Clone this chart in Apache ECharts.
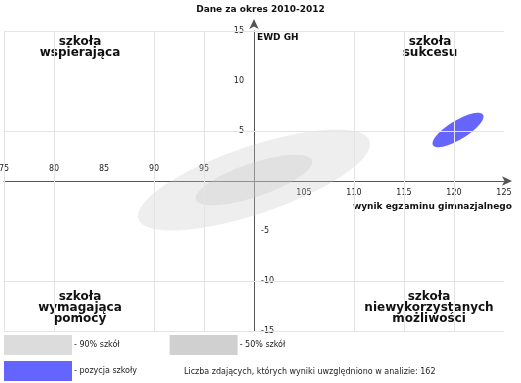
<!DOCTYPE html>
<html><head><meta charset="utf-8">
<script src="https://cdn.jsdelivr.net/npm/echarts@6/dist/echarts.min.js"></script>
<style>html,body{margin:0;padding:0;background:#fff}#c{width:521px;height:383px}</style>
</head><body><div id="c"></div>
<script>
// ---- data ----
const titleText = 'Dane za okres 2010-2012';
const xName = 'wynik egzaminu gimnazjalnego';
const yName = 'EWD GH';
const xMin = 75, xMax = 125, yMin = -15, yMax = 15, step = 5;
const xLabelsAbove = [75, 80, 85, 90, 95];
const xLabelsBelow = [105, 110, 115, 120, 125];
const yLabelsLeft = [15, 10, 5];
const yLabelsRight = [-5, -10, -15];
const xGridValues = [75, 80, 90, 95, 110, 115, 120];
const yGridValues = [15, 5, -10, -15];
const xTicksBelow = [75, 80, 90, 95, 110, 115, 120];
const xTicksAbove = [80, 90, 95];
const seriesNames = ['90% szkół', '50% szkół', 'pozycja szkoły'];
const centerX = [100, 100, 120.4];
const centerY = [0.1, 0.1, 5.1];
const semiMajor = [12.2, 6.13, 2.93];
const semiMinor = [3.37, 1.68, 0.94];
const tiltDeg = [18.7, 18.7, 31.3];
const quadrantLabels = ['szkoła\nwspierająca', 'szkoła\nsukcesu', 'szkoła\nwymagająca\npomocy', 'szkoła\nniewykorzystanych\nmożliwości'];
const noteText = 'Liczba zdających, których wyniki uwzględniono w analizie: 162';

// ---- styles ----
const FONT = 'DejaVu Sans';
const legendColors = ['#dcdcdc', '#d0d0d0', '#6464ff'];
const fillColors = ['rgba(200,200,200,0.3)', 'rgba(200,200,200,0.34)', '#6666ff'];
const axisColor = '#555';
const gridColor = '#e4e4e4';

function ellipseRenderer(fill) {
  return function (params, api) {
    const cx = api.value(0), cy = api.value(1), a = api.value(2), b = api.value(3);
    const th = api.value(4) * Math.PI / 180;
    const pts = [];
    const N = 160;
    for (let i = 0; i < N; i++) {
      const t = i / N * 2 * Math.PI;
      const dx = a * Math.cos(t), dy = b * Math.sin(t);
      pts.push(api.coord([cx + dx * Math.cos(th) - dy * Math.sin(th), cy + dx * Math.sin(th) + dy * Math.cos(th)]));
    }
    return { type: 'polygon', shape: { points: pts }, style: { fill: fill } };
  };
}

const ellipseSeries = seriesNames.map((name, i) => ({
  type: 'custom',
  name: name,
  xAxisIndex: 0, yAxisIndex: 0,
  z: 2 + i,
  silent: true,
  itemStyle: { color: legendColors[i], borderWidth: 0 },
  renderItem: ellipseRenderer(fillColors[i]),
  encode: { x: 0, y: 1 },
  data: [[centerX[i], centerY[i], semiMajor[i], semiMinor[i], tiltDeg[i]]]
}));

const gridSeries = {
  type: 'line', name: 'grid', data: [], z: 1, silent: true,
  markLine: {
    silent: true, symbol: 'none', label: { show: false },
    lineStyle: { color: gridColor, type: 'solid', width: 1 },
    emphasis: { disabled: true },
    animation: false,
    data: xGridValues.map(v => ({ xAxis: v })).concat(yGridValues.map(v => ({ yAxis: v })))
  }
};

const labelStyle = { fontSize: 8, color: '#222', fontFamily: FONT };

const quadPos = [
  { x: 80, y: 36 }, { x: 430, y: 36 }, { x: 80, y: 291 }, { x: 429, y: 291 }
];

const chart = echarts.init(document.getElementById('c'), null, { renderer: 'canvas' });
chart.setOption({
  animation: false,
  textStyle: { fontFamily: FONT },
  title: {
    text: titleText, left: 'center', top: 0,
    textStyle: { fontSize: 9, fontWeight: 'bold', color: '#111', fontFamily: FONT }
  },
  grid: { left: 4, right: 17, top: 31, bottom: 52, containLabel: false, outerBoundsMode: 'none' },
  xAxis: [
    {
      type: 'value', min: xMin, max: xMax, interval: step, position: 'bottom', offset: -150,
      axisLine: { show: true, onZero: false, lineStyle: { color: axisColor },
        symbol: ['none', 'arrow'], symbolSize: [7, 10], symbolOffset: [0, 8] },
      axisTick: { show: true, customValues: xTicksBelow, length: 5, lineStyle: { color: axisColor } },
      axisLabel: Object.assign({ customValues: xLabelsBelow, margin: 8 }, labelStyle),
      splitLine: { show: false }
    },
    {
      type: 'value', min: xMin, max: xMax, interval: step, position: 'bottom', offset: -150,
      axisLine: { show: false, onZero: false },
      axisTick: { show: true, inside: true, customValues: xTicksAbove, length: 5, lineStyle: { color: axisColor } },
      axisLabel: Object.assign({ customValues: xLabelsAbove, margin: 8, inside: true }, labelStyle),
      splitLine: { show: false }
    }
  ],
  yAxis: [
    {
      type: 'value', min: yMin, max: yMax, interval: step, position: 'left', offset: -250,
      axisLine: { show: true, onZero: false, lineStyle: { color: axisColor },
        symbol: ['none', 'arrow'], symbolSize: [7, 10], symbolOffset: [0, 12] },
      axisTick: { show: true, customValues: yGridValues, length: 6, lineStyle: { color: axisColor } },
      axisLabel: Object.assign({ customValues: yLabelsLeft, margin: 10 }, labelStyle),
      splitLine: { show: false }
    },
    {
      type: 'value', min: yMin, max: yMax, interval: step, position: 'left', offset: -250,
      axisLine: { show: false, onZero: false },
      axisTick: { show: true, inside: true, customValues: yGridValues, length: 6, lineStyle: { color: axisColor } },
      axisLabel: Object.assign({ customValues: yLabelsRight, margin: 7, inside: true }, labelStyle),
      splitLine: { show: false }
    }
  ],
  legend: [
    {
      data: seriesNames.slice(0, 2), left: 4, top: 335, orient: 'horizontal',
      itemWidth: 68, itemHeight: 20, itemGap: 50, icon: 'rect', padding: 0,
      selectedMode: false, formatter: '- {name}',
      textStyle: { fontSize: 8, color: '#222', fontFamily: FONT, padding: [0, 0, 0, -3] }
    },
    {
      data: seriesNames.slice(2), left: 4, top: 361, orient: 'horizontal',
      itemWidth: 68, itemHeight: 20, icon: 'rect', padding: 0,
      selectedMode: false, formatter: '- {name}',
      textStyle: { fontSize: 8, color: '#222', fontFamily: FONT, padding: [0, 0, 0, -3] }
    }
  ],
  graphic: [
    { type: 'text', left: 257, top: 33, style: { text: yName, fontSize: 9, fontWeight: 'bold', fill: '#111', fontFamily: FONT } },
    { type: 'text', x: 512, y: 207, style: { text: xName, fontSize: 9, fontWeight: 'bold', fill: '#111', fontFamily: FONT, align: 'right', verticalAlign: 'middle' } },
    { type: 'text', x: 184, y: 372, style: { text: noteText, fontSize: 8, fill: '#222', fontFamily: FONT, align: 'left', verticalAlign: 'middle' } }
  ].concat(quadrantLabels.map((t, i) => ({
    type: 'text', x: quadPos[i].x, y: quadPos[i].y,
    style: { text: t, fontSize: 12, fontWeight: 'bold', fill: '#111', fontFamily: FONT, align: 'center', verticalAlign: 'top', lineHeight: 11 }
  }))),
  series: [gridSeries].concat(ellipseSeries)
});
</script>
</body></html>
